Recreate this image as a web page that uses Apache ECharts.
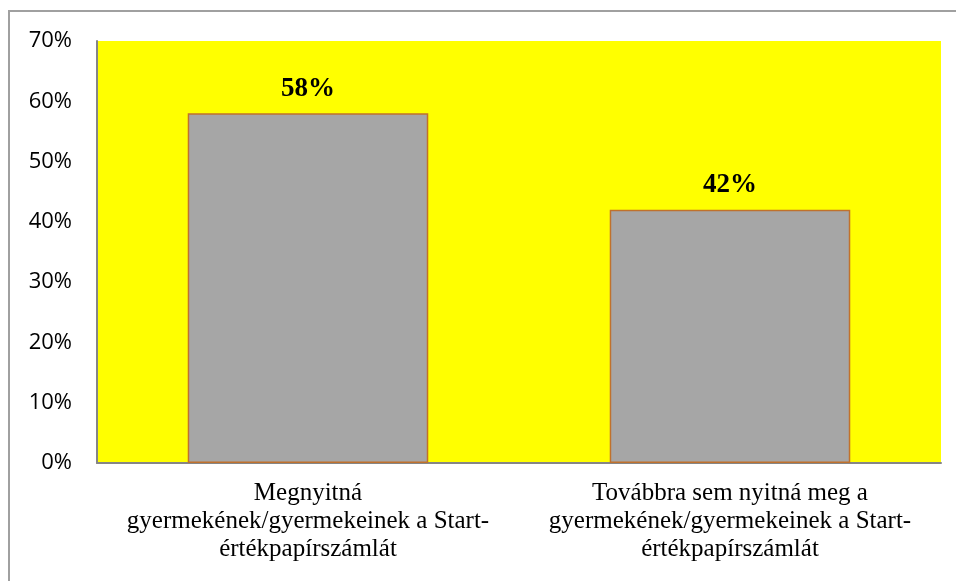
<!DOCTYPE html>
<html>
<head>
<meta charset="utf-8">
<script src="https://cdn.jsdelivr.net/npm/echarts@6/dist/echarts.min.js"></script>
<style>
    html, body { margin: 0; padding: 0; background: #fff; }
    #frame { position: absolute; left: 8px; top: 10px; width: 960px; height: 600px; border: 2px solid #a0a0a0; box-sizing: border-box; }
    #chart { position: absolute; left: 0; top: 0; width: 956px; height: 581px; }
</style>
</head>
<body>
<div id="frame"></div>
<div id="chart"></div>
<script>
// kategóriák és értékek (%)
let categories = [
    'Megnyitná\ngyermekének/gyermekeinek a Start-\nértékpapírszámlát',
    'Továbbra sem nyitná meg a\ngyermekének/gyermekeinek a Start-\nértékpapírszámlát'
];
let values = [58, 42];

let myChart = echarts.init(document.getElementById('chart'));

let option = {
    animation: false,
    grid: {
        left: 97,
        top: 41,
        right: 15,
        bottom: 118,
        show: true,
        backgroundColor: '#ffff00',
        borderWidth: 0
    },
    xAxis: {
        type: 'category',
        data: categories,
        axisLine: {lineStyle: {color: '#868686', width: 2}},
        axisTick: {show: false},
        axisLabel: {
            color: '#000',
            fontFamily: 'Liberation Serif',
            fontSize: 25,
            lineHeight: 28,
            margin: 16,
            interval: 0
        }
    },
    yAxis: {
        type: 'value',
        min: 0,
        max: 70,
        interval: 10,
        splitLine: {show: false},
        axisLine: {show: true, lineStyle: {color: '#868686', width: 2}},
        axisTick: {show: false},
        axisLabel: {
            color: '#000',
            fontFamily: 'Open Sans',
            fontSize: 22,
            margin: 25,
            formatter: '{value}%'
        }
    },
    series: [
        {
            type: 'bar',
            data: values,
            barWidth: '57%',
            itemStyle: {color: '#a6a6a6', borderColor: '#c0712c', borderWidth: 1.5},
            label: {
                show: true,
                position: 'top',
                distance: 11,
                formatter: '{c}%',
                color: '#000',
                fontFamily: 'Liberation Serif',
                fontWeight: 'bold',
                fontSize: 27
            }
        }
    ]
};

myChart.setOption(option);
</script>
</body>
</html>
